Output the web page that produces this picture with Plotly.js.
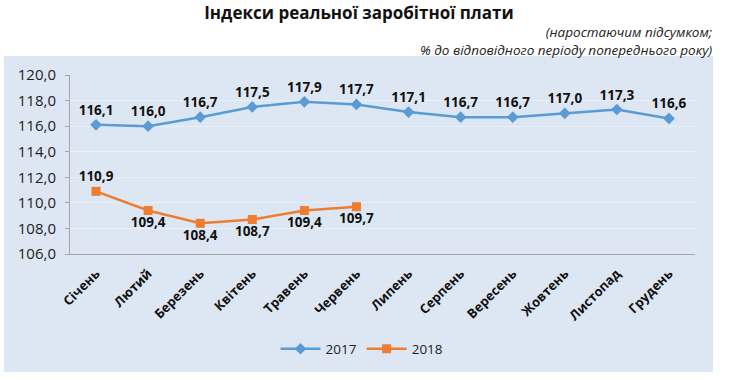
<!DOCTYPE html>
<html>
<head>
<meta charset="utf-8">
<script src="https://cdn.plot.ly/plotly-3.0.1.min.js"></script>
<style>html,body{margin:0;padding:0;background:#fff;}#chart{width:737px;height:380px;}</style>
</head>
<body>
<div id="chart"></div>
<script>
const months = ["Січень","Лютий","Березень","Квітень","Травень","Червень","Липень","Серпень","Вересень","Жовтень","Листопад","Грудень"];
const values2017 = [116.1,116.0,116.7,117.5,117.9,117.7,117.1,116.7,116.7,117.0,117.3,116.6];
const values2018 = [110.9,109.4,108.4,108.7,109.4,109.7];
const months2018 = months.slice(0, values2018.length);
const pos2018 = ["top center","bottom center","bottom center","bottom center","bottom center","bottom center"];
const yTicks = [106,108,110,112,114,116,118,120];

const W = 737, H = 380;
const m = {l: 70, r: 42, t: 75, b: 126};
const pw = W - m.l - m.r, ph = H - m.t - m.b;
const px = x => (x - m.l) / pw;
const py = y => (H - m.b - y) / ph;

const font = "Open Sans, Noto Sans, sans-serif";
const traces = [
  {
    x: months, y: values2017, name: "2017", type: "scatter", mode: "lines+markers+text",
    line: {color: "#5b9bd5", width: 2.5},
    marker: {symbol: "diamond", size: 9, color: "#5b9bd5"},
    texttemplate: "%{y:.1f}", textposition: "top center",
    textfont: {family: font, size: 13.5, color: "#111", weight: "bold"},
    cliponaxis: false
  },
  {
    x: months2018, y: values2018, name: "2018", type: "scatter", mode: "lines+markers+text",
    line: {color: "#ed7d31", width: 2.5},
    marker: {symbol: "square", size: 9, color: "#ed7d31"},
    texttemplate: "%{y:.1f}", textposition: pos2018,
    textfont: {family: font, size: 13.5, color: "#111", weight: "bold"},
    cliponaxis: false
  }
];

const layout = {
  width: W, height: H,
  margin: m,
  paper_bgcolor: "#ffffff",
  plot_bgcolor: "rgba(0,0,0,0)",
  separators: ", ",
  font: {family: font, color: "#222"},
  title: {
    text: "<b>Індекси реальної заробітної плати</b>",
    font: {family: font, size: 17, color: "#111"},
    x: 359 / W, xref: "container", xanchor: "center",
    y: 1 - 13 / H, yref: "container", yanchor: "middle"
  },
  showlegend: true,
  legend: {
    orientation: "h", x: px(362), xanchor: "center", y: py(349), yanchor: "middle",
    font: {family: font, size: 13.5, color: "#222"}, bgcolor: "rgba(0,0,0,0)",
    itemwidth: 40
  },
  xaxis: {
    type: "category", range: [-0.5, 11.5],
    showgrid: false, showline: true, linecolor: "#a6a6a6", linewidth: 1,
    ticks: "", tickangle: -45, ticklabelstandoff: 6,
    tickfont: {family: font, size: 13, color: "#111", weight: "bold"}
  },
  yaxis: {
    range: [106, 120], tickvals: yTicks, tickformat: ".1f",
    showgrid: true, gridcolor: "#eaf0f8", gridwidth: 1,
    showline: true, linecolor: "#a6a6a6", linewidth: 1,
    ticks: "outside", ticklen: 4, tickcolor: "#a6a6a6", ticklabelstandoff: 6,
    tickfont: {family: font, size: 15, color: "#222"},
    zeroline: false
  },
  shapes: [{
    type: "rect", xref: "paper", yref: "paper", layer: "below",
    x0: px(4), x1: px(713), y0: py(372), y1: py(56),
    fillcolor: "#dde7f3", line: {width: 0}
  }],
  annotations: [{
    xref: "paper", yref: "paper", x: px(714), y: py(41), xanchor: "right", yanchor: "middle",
    align: "right", showarrow: false,
    text: "<i>(наростаючим підсумком;<br>% до відповідного періоду попереднього року)</i>",
    font: {family: font, size: 13.5, color: "#222"}
  }]
};

Plotly.newPlot("chart", traces, layout, {displayModeBar: false, staticPlot: true});
</script>
</body>
</html>
